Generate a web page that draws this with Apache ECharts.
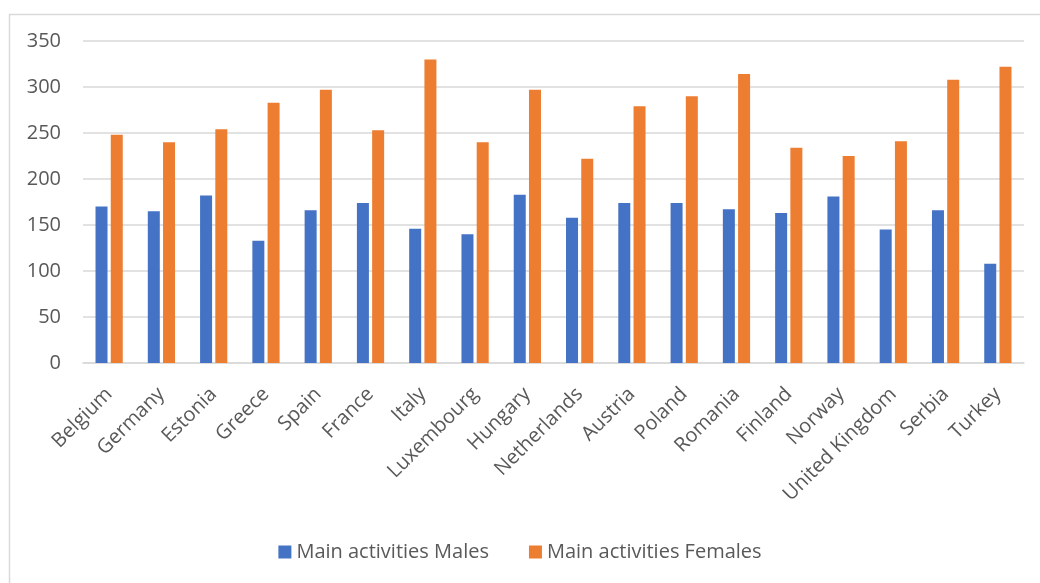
<!DOCTYPE html>
<html>
<head>
<meta charset="utf-8">
<script src="https://cdn.jsdelivr.net/npm/echarts@6/dist/echarts.min.js"></script>
<style>html,body{margin:0;padding:0;background:#fff}#c{width:1040px;height:583px}</style>
</head>
<body>
<div id="c"></div>
<script>
const categories = ["Belgium","Germany","Estonia","Greece","Spain","France","Italy","Luxembourg","Hungary","Netherlands","Austria","Poland","Romania","Finland","Norway","United Kingdom","Serbia","Turkey"];
const males = [170,165,182,133,166,174,146,140,183,158,174,174,167,163,181,145,166,108];
const females = [248,240,254,283,297,253,330,240,297,222,279,290,314,234,225,241,308,322];
const seriesNames = ["Main activities Males","Main activities Females"];

const chart = echarts.init(document.getElementById('c'));
const font = 'Open Sans';
const txt = '#595959';
chart.setOption({
  animation: false,
  graphic: [{type:'rect', left:7, top:12, shape:{x:0,y:0,width:1100,height:700}, style:{fill:'none', stroke:'#d9d9d9', lineWidth:1.5}, silent:true}],
  grid: {left:83, right:16, top:41, bottom:220, containLabel:false},
  legend: {
    bottom: 16, left: 'center', itemWidth: 13, itemHeight: 13, itemGap: 40,
    icon: 'rect',
    textStyle: {fontFamily: font, fontSize: 20, color: txt}
  },
  xAxis: {
    type: 'category', data: categories,
    axisLine: {lineStyle: {color:'#d9d9d9', width:1.5}},
    axisTick: {show:false},
    axisLabel: {rotate:45, interval:0, fontFamily:font, fontSize:20, color:txt, margin:28}
  },
  yAxis: {
    type: 'value', min:0, max:350, interval:50,
    axisLine: {show:false}, axisTick:{show:false},
    splitLine: {lineStyle:{color:'#d9d9d9', width:1.5}},
    axisLabel: {fontFamily:font, fontSize:20, color:txt, margin:22}
  },
  series: [
    {name: seriesNames[0], type:'bar', data: males, barWidth:12, barGap:'27%', itemStyle:{color:'#4472C4'}},
    {name: seriesNames[1], type:'bar', data: females, barWidth:12, barGap:'27%', itemStyle:{color:'#ED7D31'}}
  ]
});
</script>
</body>
</html>
